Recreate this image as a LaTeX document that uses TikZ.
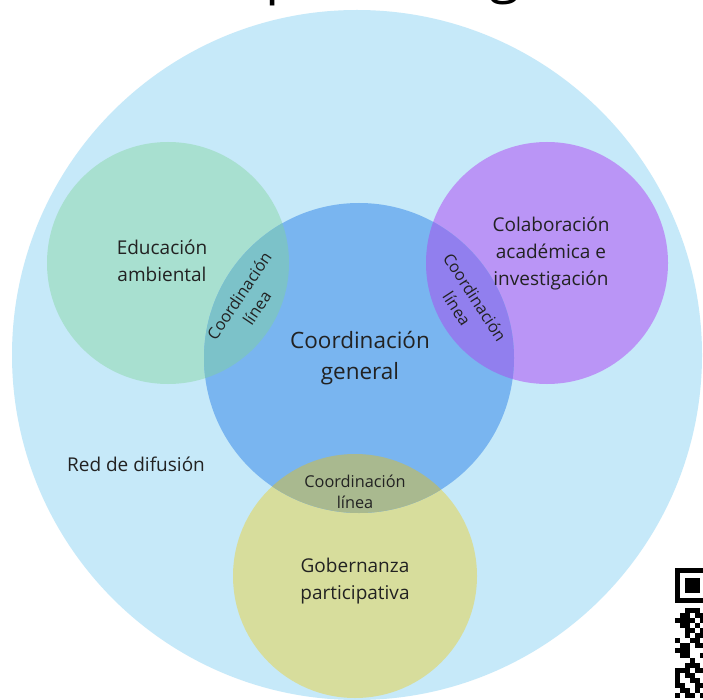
\documentclass[tikz,border=0pt]{standalone}
\usepackage{fontspec}
\setmainfont{Open Sans}
\definecolor{bgblue}{HTML}{C6E9F9}
\definecolor{cgreen}{HTML}{A8E0D0}
\definecolor{cblue}{HTML}{79B5F0}
\definecolor{cpurple}{HTML}{BA95F6}
\definecolor{cyellow}{HTML}{D7DD9C}
\definecolor{lgreen}{HTML}{7CC2C9}
\definecolor{lpurple}{HTML}{917FEE}
\definecolor{lyellow}{HTML}{A9B98F}
\definecolor{ink}{HTML}{222222}
\tikzset{
  disc/.style={circle, inner sep=0pt, draw=none},
  bigtext/.style={text=ink, align=center, inner sep=0pt, font=\fontsize{22.5}{31}\selectfont},
  sidetext/.style={text=ink, align=center, inner sep=0pt, font=\fontsize{19}{27}\selectfont},
  lenstext/.style={text=ink, align=center, inner sep=0pt, font=\fontsize{16.3}{21.5}\selectfont},
  titletext/.style={text=black, inner sep=0pt, font=\fontsize{56}{56}\selectfont},
  qr/.style={fill=black}
}
\begin{document}
\begin{tikzpicture}[x=1pt,y=-1pt]
\useasboundingbox (0,0) rectangle (703,700);
\fill[white] (0,0) rectangle (703,700);
% cut-off title
\node[titletext, anchor=base west] (tp) at (265,-7) {p};
\node[titletext, anchor=base] (tg) at (505,-8) {g};
% big circle
\node[disc, fill=bgblue, minimum size=690pt] (big) at (357,355) {};
% circles
\node[disc, fill=cgreen, minimum size=242pt] (edu) at (168,263) {};
\node[disc, fill=cpurple, minimum size=242pt] (col) at (547,263) {};
\node[disc, fill=cyellow, minimum size=244pt] (gob) at (355,576) {};
\node[disc, fill=cblue, minimum size=310pt] (gen) at (359,358) {};
% lenses
\begin{scope}
  \clip (168,263) circle (121pt);
  \fill[lgreen] (359,358) circle (155pt);
\end{scope}
\begin{scope}
  \clip (547,263) circle (121pt);
  \fill[lpurple] (359,358) circle (155pt);
\end{scope}
\begin{scope}
  \clip (355,576) circle (122pt);
  \fill[lyellow] (359,358) circle (155pt);
\end{scope}
% labels
\node[bigtext] (tgen) at (360,358) {Coordinación\\general};
\node[sidetext] (tedu) at (162,261) {Educación\\ambiental};
\node[sidetext] (tcol) at (551,254) {Colaboración\\académica e\\investigación};
\node[sidetext] (tgob) at (355,581) {Gobernanza\\participativa};
\node[sidetext] (tred) at (136,464) {Red de difusión};
\node[lenstext, rotate=56] (l1) at (248,302) {Coordinación\\línea};
\node[lenstext, rotate=-57] (l2) at (466,303) {Coordinación\\línea};
\node[lenstext] (l3) at (355,492) {Coordinación\\línea};
% QR code fragment
\fill[qr] (675,568) rectangle (710,603);
\fill[white] (680,573) rectangle (705,598);
\fill[qr] (685,578) rectangle (700,593);
\foreach \r/\c in {0/2,0/3,0/4,
  1/1,1/2,1/4,1/5,
  2/0,2/1,2/2,2/3,2/5,
  3/1,3/2,3/4,
  4/2,4/3,4/5,
  5/2,5/4,5/5,
  6/0,6/3,6/4,
  7/1,7/2,7/4,7/5,
  8/0,8/1,8/2,
  9/1,9/2,9/5,
  10/3,
  11/2,11/3,11/4,
  12/0,12/1,12/2,12/4,12/5,
  13/0,13/2,13/3,
  14/0,14/3,14/4,
  15/0,15/1,15/4,15/5,
  16/1,16/2,16/4,
  17/0,17/2,17/3,17/5}{
  \fill[qr] ({675+5*\c},{608+5*\r}) rectangle ++(5,5);
}
\end{tikzpicture}
\end{document}
